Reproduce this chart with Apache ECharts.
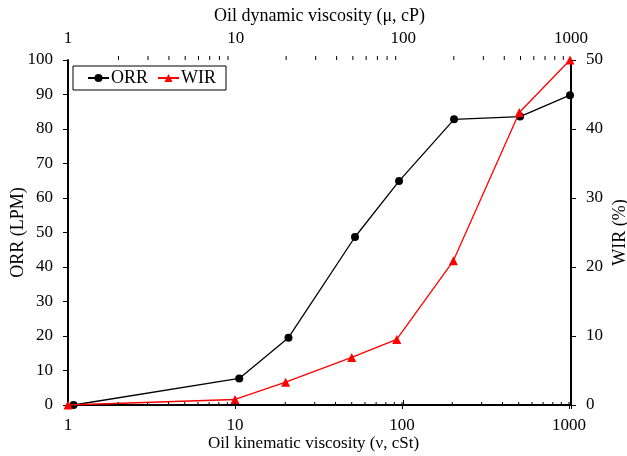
<!DOCTYPE html>
<html>
<head>
<meta charset="utf-8">
<script src="https://cdn.jsdelivr.net/npm/echarts@6/dist/echarts.min.js"></script>
<style>
  html, body { margin: 0; padding: 0; background: #fff; }
  #chart { width: 627px; height: 456px; }
</style>
</head>
<body>
<div id="chart"></div>
<script>
// Oil recovery rate (ORR) and water intake rate (WIR) against oil viscosity
const orrViscosity = [1.08, 10.6, 20.9, 52.3, 96, 205, 509, 1014];   // ν, cSt
const orrValues    = [0, 7.7, 19.5, 48.7, 64.9, 82.8, 83.6, 89.8];    // LPM
const wirViscosity = [1, 10, 20.1, 50, 93, 203, 504, 1014];           // ν, cSt
const wirValues    = [0, 0.8, 3.3, 6.9, 9.5, 20.9, 42.4, 50];         // %

const orrTicks = [0, 10, 20, 30, 40, 50, 60, 70, 80, 90, 100];
const wirTicks = [0, 10, 20, 30, 40, 50];
const decadeTicks = [1, 10, 100, 1000];
const minorTicks = [2, 3, 4, 5, 6, 7, 8, 9,
                    20, 30, 40, 50, 60, 70, 80, 90,
                    200, 300, 400, 500, 600, 700, 800, 900];

const FONT = 'Liberation Serif';
const txt = { fontFamily: FONT, fontSize: 17, color: '#000' };
const titleTxt = { fontFamily: FONT, fontSize: 18, color: '#000' };
const axisLine = { show: true, lineStyle: { color: '#000', width: 2 } };

function pairs(xs, ys) { return xs.map((x, i) => [x, ys[i]]); }

// short ticks along a log axis (inward at the bottom, outward at the top)
function tickSeries(axisIndex, values, len, side) {
  return {
    type: 'custom',
    xAxisIndex: axisIndex,
    yAxisIndex: 0,
    silent: true,
    clip: false,
    z: 5,
    data: values.map(v => [v, 0]),
    renderItem: function (params, api) {
      const x = api.coord([api.value(0), 0])[0];
      const cs = params.coordSys;
      const y0 = side === 'bottom' ? cs.y + cs.height : cs.y;
      const y1 = y0 - len;
      return {
        type: 'line',
        shape: { x1: x, y1: y0, x2: x, y2: y1 },
        style: { stroke: '#000', lineWidth: 1 }
      };
    }
  };
}

const isDecade = v => decadeTicks.some(d => Math.abs(d - v) < 1e-6);

const chart = echarts.init(document.getElementById('chart'), null, { renderer: 'canvas' });
chart.setOption({
  animation: false,
  backgroundColor: '#fff',
  textStyle: { fontFamily: FONT },
  grid: { left: 68, right: 56, top: 60, bottom: 51, containLabel: false, outerBoundsMode: 'none' },
  legend: {
    data: ['ORR', 'WIR'],
    left: 73, top: 66,
    orient: 'horizontal',
    itemWidth: 21, itemHeight: 10, itemGap: 9,
    padding: [3, 10, 3, 14],
    borderColor: '#000', borderWidth: 1,
    textStyle: Object.assign({}, txt, { fontSize: 18, padding: [0, 0, 0, -3] })
  },
  xAxis: [
    {
      type: 'log', logBase: 10, min: 1, max: 1028, position: 'bottom',
      name: 'Oil kinematic viscosity (ν, cSt)',
      nameLocation: 'middle', nameGap: 30, nameMoveOverlap: false,
      nameTextStyle: Object.assign({}, titleTxt, { fontSize: 17, padding: [0, 12, 0, 0] }),
      axisLine: axisLine,
      axisTick: { show: true, inside: false, length: 4, lineStyle: { color: '#000', width: 1 } },
      axisLabel: Object.assign({}, txt, {
        margin: 12,
        formatter: v => isDecade(v) ? String(Math.round(v)) : ''
      }),
      splitLine: { show: false }
    },
    {
      type: 'log', logBase: 10, min: 1, max: 1000, position: 'top',
      name: 'Oil dynamic viscosity (μ, cP)',
      nameLocation: 'middle', nameGap: 35, nameMoveOverlap: false,
      nameTextStyle: titleTxt,
      axisLine: axisLine,
      axisTick: { show: true, inside: false, length: 5, lineStyle: { color: '#000', width: 1 } },
      axisLabel: Object.assign({}, txt, {
        margin: 13,
        formatter: v => isDecade(v) ? String(Math.round(v)) : ''
      }),
      splitLine: { show: false }
    }
  ],
  yAxis: [
    {
      type: 'value', min: orrTicks[0], max: orrTicks[orrTicks.length - 1], interval: 10,
      position: 'left',
      name: 'ORR (LPM)', nameLocation: 'middle', nameGap: 41, nameRotate: 90,
      nameMoveOverlap: false,
      nameTextStyle: titleTxt,
      axisLine: axisLine,
      axisTick: { show: true, inside: false, length: 5, lineStyle: { color: '#000', width: 1 } },
      axisLabel: Object.assign({}, txt, { margin: 15 }),
      splitLine: { show: false }
    },
    {
      type: 'value', min: wirTicks[0], max: wirTicks[wirTicks.length - 1], interval: 10,
      position: 'right',
      name: 'WIR (%)', nameLocation: 'middle', nameGap: 40, nameRotate: 90,
      nameMoveOverlap: false,
      nameTextStyle: titleTxt,
      axisLine: axisLine,
      axisTick: { show: true, inside: false, length: 5, lineStyle: { color: '#000', width: 1 } },
      axisLabel: Object.assign({}, txt, { margin: 15 }),
      splitLine: { show: false }
    }
  ],
  series: [
    tickSeries(0, minorTicks.concat([10, 100, 1000]), 3, 'bottom'),
    tickSeries(1, minorTicks, 4, 'top'),
    {
      name: 'ORR', type: 'line', xAxisIndex: 0, yAxisIndex: 0,
      data: pairs(orrViscosity, orrValues),
      symbol: 'circle', symbolSize: 8,
      lineStyle: { color: '#000', width: 1.3 },
      itemStyle: { color: '#000' },
      z: 3
    },
    {
      name: 'WIR', type: 'line', xAxisIndex: 0, yAxisIndex: 1,
      data: pairs(wirViscosity, wirValues),
      symbol: 'triangle', symbolSize: 9,
      lineStyle: { color: '#ff0000', width: 1.3 },
      itemStyle: { color: '#ff0000' },
      z: 4
    }
  ]
});
</script>
</body>
</html>
